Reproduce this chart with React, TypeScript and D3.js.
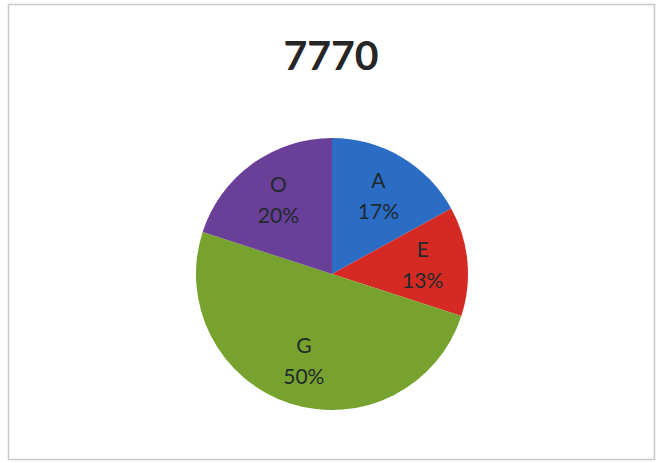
import React, { useEffect, useRef } from 'react';
import * as d3 from 'd3';

const title = '7770';
const categories = ['A', 'E', 'G', 'O'];
const shares = [17, 13, 50, 20];
const colors = ['#2b6cc4', '#d42a23', '#78a22f', '#6a3f98'];

const W = 656;
const H = 463;

const App: React.FC = () => {
  const svgRef = useRef<SVGSVGElement>(null);

  useEffect(() => {
    if (!svgRef.current) return;
    const svg = d3.select(svgRef.current);
    svg.selectAll('*').remove();

    svg.append('rect').attr('width', W).attr('height', H).attr('fill', '#fff');

    // frame
    svg.append('rect')
      .attr('x', 8.5).attr('y', 4.5)
      .attr('width', 646).attr('height', 455)
      .attr('fill', 'none')
      .attr('stroke', '#c8c8c8')
      .attr('stroke-width', 1.5);

    svg.append('text')
      .attr('x', 331)
      .attr('y', 70)
      .attr('text-anchor', 'middle')
      .style('font-family', 'Lato, "Open Sans", sans-serif')
      .style('font-weight', 'bold')
      .style('font-size', '41px')
      .style('fill', '#262626')
      .text(title);

    const cx = 332, cy = 274, r = 136;
    const data = categories.map((c, i) => ({ cat: c, value: shares[i], color: colors[i] }));
    const pie = d3.pie<any>().value(d => d.value).sort(null);
    const arcs = pie(data);
    const arc = d3.arc<any>().innerRadius(0).outerRadius(r);
    const labelArc = d3.arc<any>().innerRadius(r * 0.67).outerRadius(r * 0.67);

    const g = svg.append('g').attr('transform', `translate(${cx},${cy})`);
    g.selectAll('path')
      .data(arcs)
      .join('path')
      .attr('d', arc as any)
      .attr('fill', d => d.data.color);

    const labels = g.selectAll('g.lbl')
      .data(arcs)
      .join('g')
      .attr('class', 'lbl')
      .attr('transform', d => {
        const [x, y] = labelArc.centroid(d);
        return `translate(${x},${y})`;
      });

    labels.append('text')
      .attr('text-anchor', 'middle')
      .attr('y', -8)
      .style('font-family', 'Lato, "Open Sans", sans-serif')
      .style('font-size', '21px')
      .style('fill', '#1e2a2c')
      .text(d => d.data.cat);

    labels.append('text')
      .attr('text-anchor', 'middle')
      .attr('y', 23)
      .style('font-family', 'Lato, "Open Sans", sans-serif')
      .style('font-size', '21px')
      .style('fill', '#1e2a2c')
      .text(d => `${d.data.value}%`);
  }, []);

  return <svg ref={svgRef} width={W} height={H} style={{ display: 'block', position: 'absolute', left: 0, top: 0 }} />;
};

export default App;
